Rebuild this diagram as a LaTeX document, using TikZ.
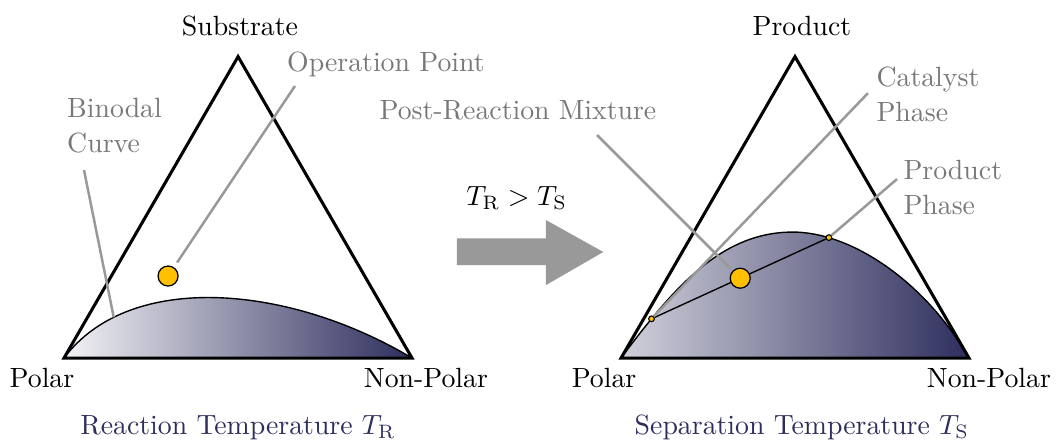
\documentclass[tikz,border=0pt]{standalone}
\usepackage{xcolor}
\usepackage{amsmath}
\usepackage{tikz}

\definecolor{binodal}{RGB}{46,46,94}
\definecolor{notegray}{RGB}{120,120,120}
\definecolor{leadgray}{RGB}{153,153,153}
\definecolor{dotyellow}{RGB}{255,192,0}

\begin{document}
\begin{tikzpicture}[
    font=\fontsize{10}{12.6}\selectfont,
    note/.style={text=notegray, align=left, inner sep=0pt},
    leader/.style={draw=leadgray, line width=0.9pt},
    dot/.style={circle, draw=black, fill=dotyellow, inner sep=0pt, minimum size=0.253cm, line width=0.45pt},
    tiedot/.style={dot, minimum size=0.07cm, line width=0.35pt},
    triangle/.style={draw, line width=1.1pt}
]
    \useasboundingbox (0,0) rectangle (13.427,5.576);

    % corners of both diagrams
    \coordinate (pl) at (0.809,1.049);
    \coordinate (nl) at (5.209,1.049);
    \coordinate (sl) at (3.010,4.860);
    \coordinate (pr) at (7.852,1.049);
    \coordinate (nr) at (12.251,1.049);
    \coordinate (ar) at (10.051,4.860);

    % binodal regions
    \shade[left color=binodal!6, right color=binodal] (pl) .. controls (1.643,2.162) and (3.667,1.972) .. (nl) -- cycle;
    \draw[line width=0.5pt] (pl) .. controls (1.643,2.162) and (3.667,1.972) .. (nl);
    \shade[left color=binodal!22, right color=binodal] (pr) .. controls (8.496,1.910) and (9.103,2.642) .. (10.025,2.642)
        .. controls (10.746,2.642) and (11.683,2.035) .. (nr) -- cycle;
    \draw[line width=0.5pt] (pr) .. controls (8.496,1.910) and (9.103,2.642) .. (10.025,2.642)
        .. controls (10.746,2.642) and (11.683,2.035) .. (nr);

    \draw[triangle] (pl) -- (nl) -- (sl) -- cycle;
    \draw[triangle] (pr) -- (nr) -- (ar) -- cycle;

    \node (substrate) at (3.034,5.247) {Substrate};
    \node (product) at (10.139,5.247) {Product};
    \node (polarl) at (0.531,0.797) {Polar};
    \node (nonpolarl) at (5.385,0.797) {Non-Polar};
    \node (polarr) at (7.637,0.797) {Polar};
    \node (nonpolarr) at (12.503,0.797) {Non-Polar};
    \node[text=binodal, anchor=base] (reaction) at (3.010,0.085) {Reaction Temperature $T_\mathrm{R}$};
    \node[text=binodal, anchor=base] (separation) at (10.139,0.085) {Separation Temperature $T_\mathrm{S}$};

    % notes
    \node[note, anchor=north west] (binodaltxt) at (0.843,4.336) {Binodal\\Curve};
    \node[note, anchor=base west] (optxt) at (3.624,4.669) {Operation Point};
    \node[note, anchor=base] (mixtxt) at (6.549,4.071) {Post-Reaction Mixture};
    \node[note, anchor=north west] (cattxt) at (11.075,4.741) {Catalyst\\Phase};
    \node[note, anchor=north west] (prodtxt) at (11.416,3.553) {Product\\Phase};

    \coordinate (bl) at (1.062,3.426);
    \coordinate (bc) at (1.438,1.564);
    \coordinate (ol) at (3.729,4.489);
    \coordinate (ml) at (7.548,3.869);
    \coordinate (cl) at (10.974,4.399);
    \coordinate (pp) at (11.341,3.312);

    \node[dot] (op) at (2.125,2.086) {};
    \node[tiedot] (cat) at (8.237,1.545) {};
    \node[tiedot] (prod) at (10.480,2.572) {};
    \draw[line width=0.5pt] (cat) -- node[dot, pos=0.5] (mix) {} (prod);

    \draw[leader] (bl) -- (bc);
    \draw[leader, shorten >=2pt] (ol) -- (op);
    \draw[leader, shorten >=1pt] (ml) -- (mix);
    \draw[leader] (cl) -- (cat.center);
    \draw[leader] (pp) -- (prod.center);
    \node[tiedot] at (cat) {};
    \node[tiedot] at (prod) {};

    % temperature change
    \fill[leadgray] (5.775,2.563) -- (6.903,2.563) -- (6.903,2.794) -- (7.628,2.390)
        -- (6.903,1.972) -- (6.903,2.225) -- (5.775,2.225) -- cycle;
    \node[anchor=base] (temp) at (6.533,2.984) {$T_\mathrm{R} > T_\mathrm{S}$};
\end{tikzpicture}
\end{document}
